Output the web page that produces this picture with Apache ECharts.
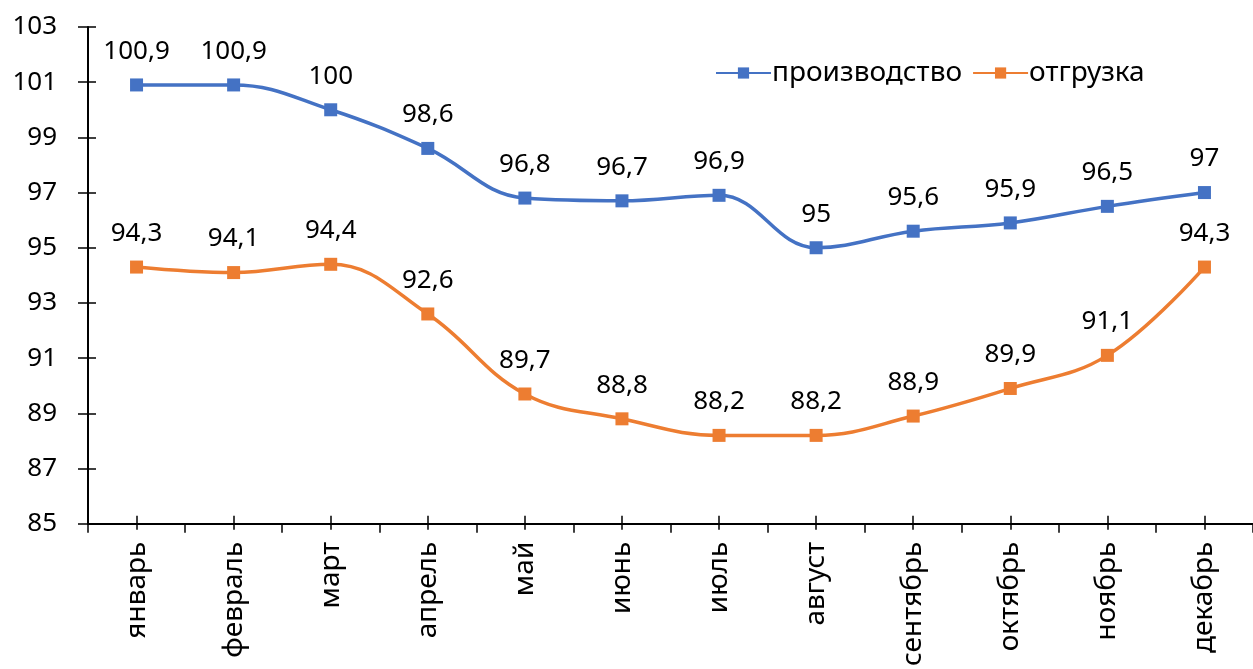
<!DOCTYPE html>
<html><head><meta charset="utf-8">
<script src="https://cdn.jsdelivr.net/npm/echarts@6/dist/echarts.min.js"></script>
<style>html,body{margin:0;padding:0;background:#fff}#c{width:1253px;height:669px}</style>
</head><body><div id="c"></div>
<script>
const months = ['январь','февраль','март','апрель','май','июнь','июль','август','сентябрь','октябрь','ноябрь','декабрь'];
const production = [100.9,100.9,100,98.6,96.8,96.7,96.9,95,95.6,95.9,96.5,97];
const shipment = [94.3,94.1,94.4,92.6,89.7,88.8,88.2,88.2,88.9,89.9,91.1,94.3];
const seriesNames = ['производство','отгрузка'];
const colors = ['#4472C4','#ED7D31'];
const FONT = '"Noto Sans", sans-serif';
const NUM = 26, TXT = 28;
const chart = echarts.init(document.getElementById('c'));
const fmt = p => String(p.value).replace('.', ',');
const mkSeries = (name, data, color) => ({
  name, type:'line', data, smooth:0.4, symbol:'rect', symbolSize:13,
  lineStyle:{color, width:3.5}, itemStyle:{color},
  label:{show:true, position:'top', distance:14, formatter:fmt, color:'#000', fontSize:NUM, fontFamily:FONT},
  xAxisIndex:0, yAxisIndex:0
});
const yBase = {type:'value', min:85, max:103, interval:2, gridIndex:0};
chart.setOption({
  animation:false,
  grid:{left:88, top:27, width:1171, bottom:144, containLabel:false},
  legend:{
    data:seriesNames, left:710, top:54, itemWidth:55, itemHeight:14, itemGap:10,
    textStyle:{fontSize:TXT, fontFamily:FONT, color:'#000', padding:[0,0,0,-4]}
  },
  xAxis:[
    {type:'category', data:months, boundaryGap:true,
     axisLine:{lineStyle:{color:'#000', width:2}},
     axisTick:{show:true, alignWithLabel:false, inside:false, length:9, lineStyle:{color:'#000', width:1.5}},
     axisLabel:{rotate:90, margin:18, fontSize:TXT, fontFamily:FONT, color:'#000', interval:0}},
    {type:'category', data:months, boundaryGap:true, position:'bottom',
     axisLine:{show:false},
     axisTick:{show:true, alignWithLabel:true, inside:true, length:8, lineStyle:{color:'#000', width:1.5}},
     axisLabel:{show:false}},
    {type:'category', data:months, boundaryGap:true, position:'bottom',
     axisLine:{show:false},
     axisTick:{show:true, alignWithLabel:true, inside:false, length:6, lineStyle:{color:'#000', width:1.5}},
     axisLabel:{show:false}}
  ],
  yAxis:[
    Object.assign({}, yBase, {
      axisLine:{show:true, lineStyle:{color:'#000', width:2}},
      axisTick:{show:true, inside:false, length:10, lineStyle:{color:'#000', width:1.5}},
      splitLine:{show:false},
      axisLabel:{margin:31, fontSize:NUM, fontFamily:FONT, color:'#000'}}),
    Object.assign({}, yBase, {position:'left',
      axisLine:{show:false},
      axisTick:{show:true, inside:true, length:8, lineStyle:{color:'#000', width:1.5}},
      splitLine:{show:false}, axisLabel:{show:false}})
  ],
  series:[
    mkSeries(seriesNames[0], production, colors[0]),
    mkSeries(seriesNames[1], shipment, colors[1])
  ]
});
</script></body></html>
